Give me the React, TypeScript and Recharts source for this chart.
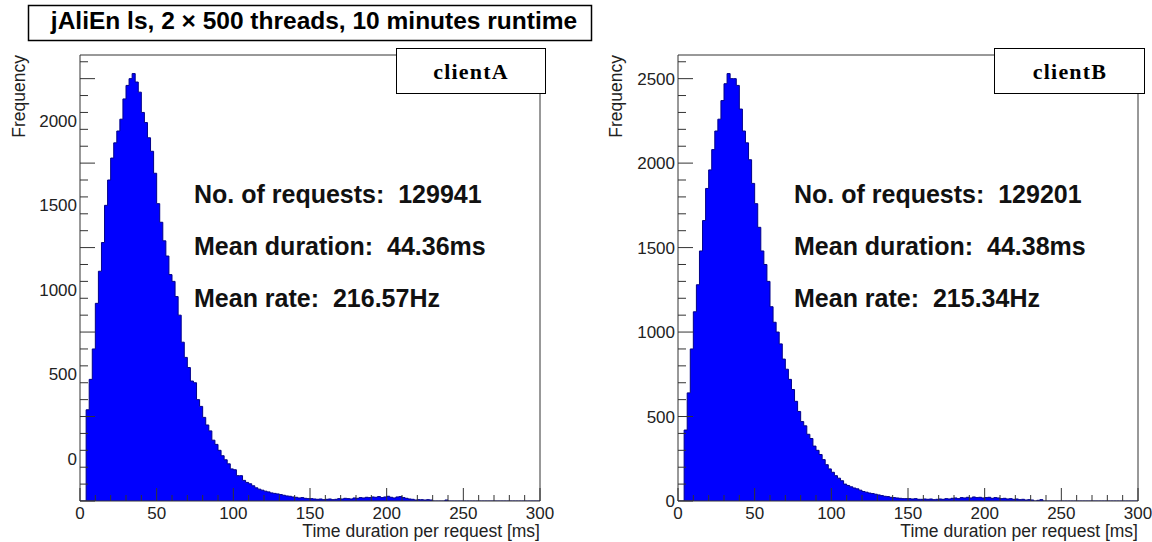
import { AreaChart, Area, XAxis, YAxis, ReferenceLine } from 'recharts';

// 2 ms bins, lower edges 0..298 (missing values = empty bins)
const BIN_EDGES = Array.from({ length: 151 }, (_, i) => i * 2);

const CLIENT_A = [
  0, 0, 540, 720, 900, 1170, 1360, 1530, 1750, 1900,
  2030, 2120, 2190, 2260, 2380, 2460, 2500, 2530, 2480, 2420,
  2300, 2240, 2150, 2070, 1940, 1760, 1650, 1540, 1450, 1340,
  1300, 1210, 1100, 940, 850, 790, 710, 700, 600, 560,
  495, 450, 415, 360, 335, 300, 268, 244, 220, 190,
  185, 150, 150, 122, 110, 102, 90, 78, 70, 64,
  58, 54, 48, 45, 42, 38, 34, 30, 28, 24,
  22, 18, 20, 16, 14, 14, 12, 10, 12, 8,
  10, 12, 8, 10, 14, 12, 16, 14, 12, 18,
  16, 20, 18, 22, 20, 24, 22, 26, 20, 24,
  28, 22, 18, 24, 26, 20, 16, 12, 10, 6,
  8, 8, 6, 8, 6, 0, 0, 0, 0, 6,
];

const CLIENT_B = [
  0, 0, 420, 640, 900, 1120, 1280, 1480, 1660, 1850,
  1960, 2080, 2190, 2260, 2370, 2470, 2530, 2500, 2500, 2460,
  2320, 2190, 2120, 2020, 1880, 1760, 1620, 1480, 1400, 1300,
  1150, 1058, 1000, 930, 840, 780, 720, 660, 590, 530,
  470, 445, 395, 370, 325, 300, 275, 245, 215, 190,
  170, 150, 135, 120, 100, 92, 84, 77, 72, 64,
  56, 52, 47, 44, 40, 36, 32, 28, 26, 22,
  20, 18, 16, 14, 14, 14, 12, 14, 10, 10,
  12, 10, 12, 8, 10, 12, 10, 14, 12, 16,
  18, 14, 20, 18, 22, 18, 24, 20, 22, 18,
  20, 22, 16, 20, 18, 14, 16, 12, 14, 10,
  12, 8, 10, 6, 8, 6, 0, 4, 8, 0,
];

const X_TICKS = Array.from({ length: 31 }, (_, i) => i * 10);
const Y_TICKS = Array.from({ length: 53 }, (_, i) => i * 50);
const Y_MAX = 2640;

const STATS_A = ['No. of requests:  129941', 'Mean duration:  44.36ms', 'Mean rate:  216.57Hz'];
const STATS_B = ['No. of requests:  129201', 'Mean duration:  44.38ms', 'Mean rate:  215.34Hz'];

const AXIS = '#333';
const SANS = 'Liberation Sans, Arial, Helvetica, sans-serif';
const SERIF = 'Liberation Serif, Times New Roman, serif';

function XTick(p: any) {
  const v = p.payload.value;
  const major = v % 50 === 0;
  return (
    <g>
      <line x1={p.x} x2={p.x} y1={p.y} y2={p.y - (major ? 13 : 6)} stroke={AXIS} />
      {major && (
        <text x={p.x} y={p.y + 18} textAnchor="middle" fontSize={17} fontFamily={SANS} fill="#222">
          {v}
        </text>
      )}
    </g>
  );
}

function YTick(p: any) {
  const v = p.payload.value;
  const lab = v - p.shift;
  return (
    <g>
      {v % 100 === 0 && (
        <line x1={p.x} x2={p.x + (v % 500 === 0 ? 15 : 8)} y1={p.y} y2={p.y} stroke={AXIS} />
      )}
      {lab >= 0 && lab % 500 === 0 && lab <= p.labelMax && (
        <text x={p.x - 3} y={p.y + 6} textAnchor="end" fontSize={17} fontFamily={SANS} fill="#222">
          {lab}
        </text>
      )}
    </g>
  );
}

function Panel({ values, left, width, shift, labelMax }: any) {
  const rows = BIN_EDGES.map((t, i) => ({ t, n: values[i] ?? 0 }));
  return (
    <div style={{ position: 'absolute', left, top: 0 }}>
      <AreaChart width={width} height={542} data={rows} margin={{ top: 55, right: width - 540, bottom: 11, left: 20 }}>
        <XAxis
          dataKey="t"
          type="number"
          domain={[0, 300]}
          ticks={X_TICKS}
          interval={0}
          height={30}
          tickSize={0}
          tickMargin={0}
          tickLine={false}
          axisLine={{ stroke: AXIS }}
          tick={(tp: any) => <XTick {...tp} />}
        />
        <YAxis
          type="number"
          domain={[0, Y_MAX]}
          ticks={Y_TICKS}
          interval={0}
          width={60}
          tickSize={0}
          tickMargin={0}
          tickLine={false}
          axisLine={{ stroke: AXIS }}
          allowDataOverflow
          tick={(tp: any) => <YTick {...tp} shift={shift} labelMax={labelMax} />}
        />
        <Area
          type="stepAfter"
          dataKey="n"
          baseValue="dataMin"
          fill="#0000ff"
          fillOpacity={1}
          stroke="#00008b"
          strokeWidth={1}
          dot={false}
          isAnimationActive={false}
        />
        <ReferenceLine x={300} stroke={AXIS} />
        <ReferenceLine y={Y_MAX} stroke={AXIS} />
      </AreaChart>
    </div>
  );
}

function Overlay() {
  const stats = (lines: string[], x: number) =>
    lines.map((s, i) => (
      <text key={s} x={x} y={203 + i * 52} fontSize={25} fontWeight="bold" fontFamily={SANS} fill="#111" style={{ whiteSpace: 'pre' }}>
        {s}
      </text>
    ));
  return (
    <svg width={1152} height={542} style={{ position: 'absolute', left: 0, top: 0, pointerEvents: 'none' }}>
      <rect x={28.5} y={5.5} width={563} height={35} fill="#fff" stroke="#000" strokeWidth={1.5} />
      <text x={314} y={29} textAnchor="middle" fontSize={24.5} fontWeight="bold" fontFamily={SANS} fill="#000">
        jAliEn ls, 2 × 500 threads, 10 minutes runtime
      </text>

      <rect x={396.5} y={48.5} width={149} height={45} fill="#fff" stroke="#000" />
      <text x={471} y={79} textAnchor="middle" fontSize={22} fontWeight="bold" letterSpacing={1.2} fontFamily={SERIF}>
        clientA
      </text>
      <rect x={994.5} y={48.5} width={150} height={45} fill="#fff" stroke="#000" />
      <text x={1070} y={79} textAnchor="middle" fontSize={22} fontWeight="bold" letterSpacing={1.2} fontFamily={SERIF}>
        clientB
      </text>

      {stats(STATS_A, 194)}
      {stats(STATS_B, 794)}

      <text transform="translate(24.5,55) rotate(-90)" textAnchor="end" fontSize={17.5} fontFamily={SANS} fill="#222">
        Frequency
      </text>
      <text transform="translate(622,55) rotate(-90)" textAnchor="end" fontSize={17.5} fontFamily={SANS} fill="#222">
        Frequency
      </text>
      <text x={540} y={537} textAnchor="end" fontSize={17.5} fontFamily={SANS} fill="#222">
        Time duration per request [ms]
      </text>
      <text x={1138} y={537} textAnchor="end" fontSize={17.5} fontFamily={SANS} fill="#222">
        Time duration per request [ms]
      </text>
    </svg>
  );
}

export default function App() {
  return (
    <div style={{ position: 'absolute', left: 0, top: 0, width: 1152, height: 542, background: '#fff' }}>
      <Panel values={CLIENT_A} left={0} width={576} shift={250} labelMax={2000} />
      <Panel values={CLIENT_B} left={598} width={554} shift={0} labelMax={2500} />
      <Overlay />
    </div>
  );
}
